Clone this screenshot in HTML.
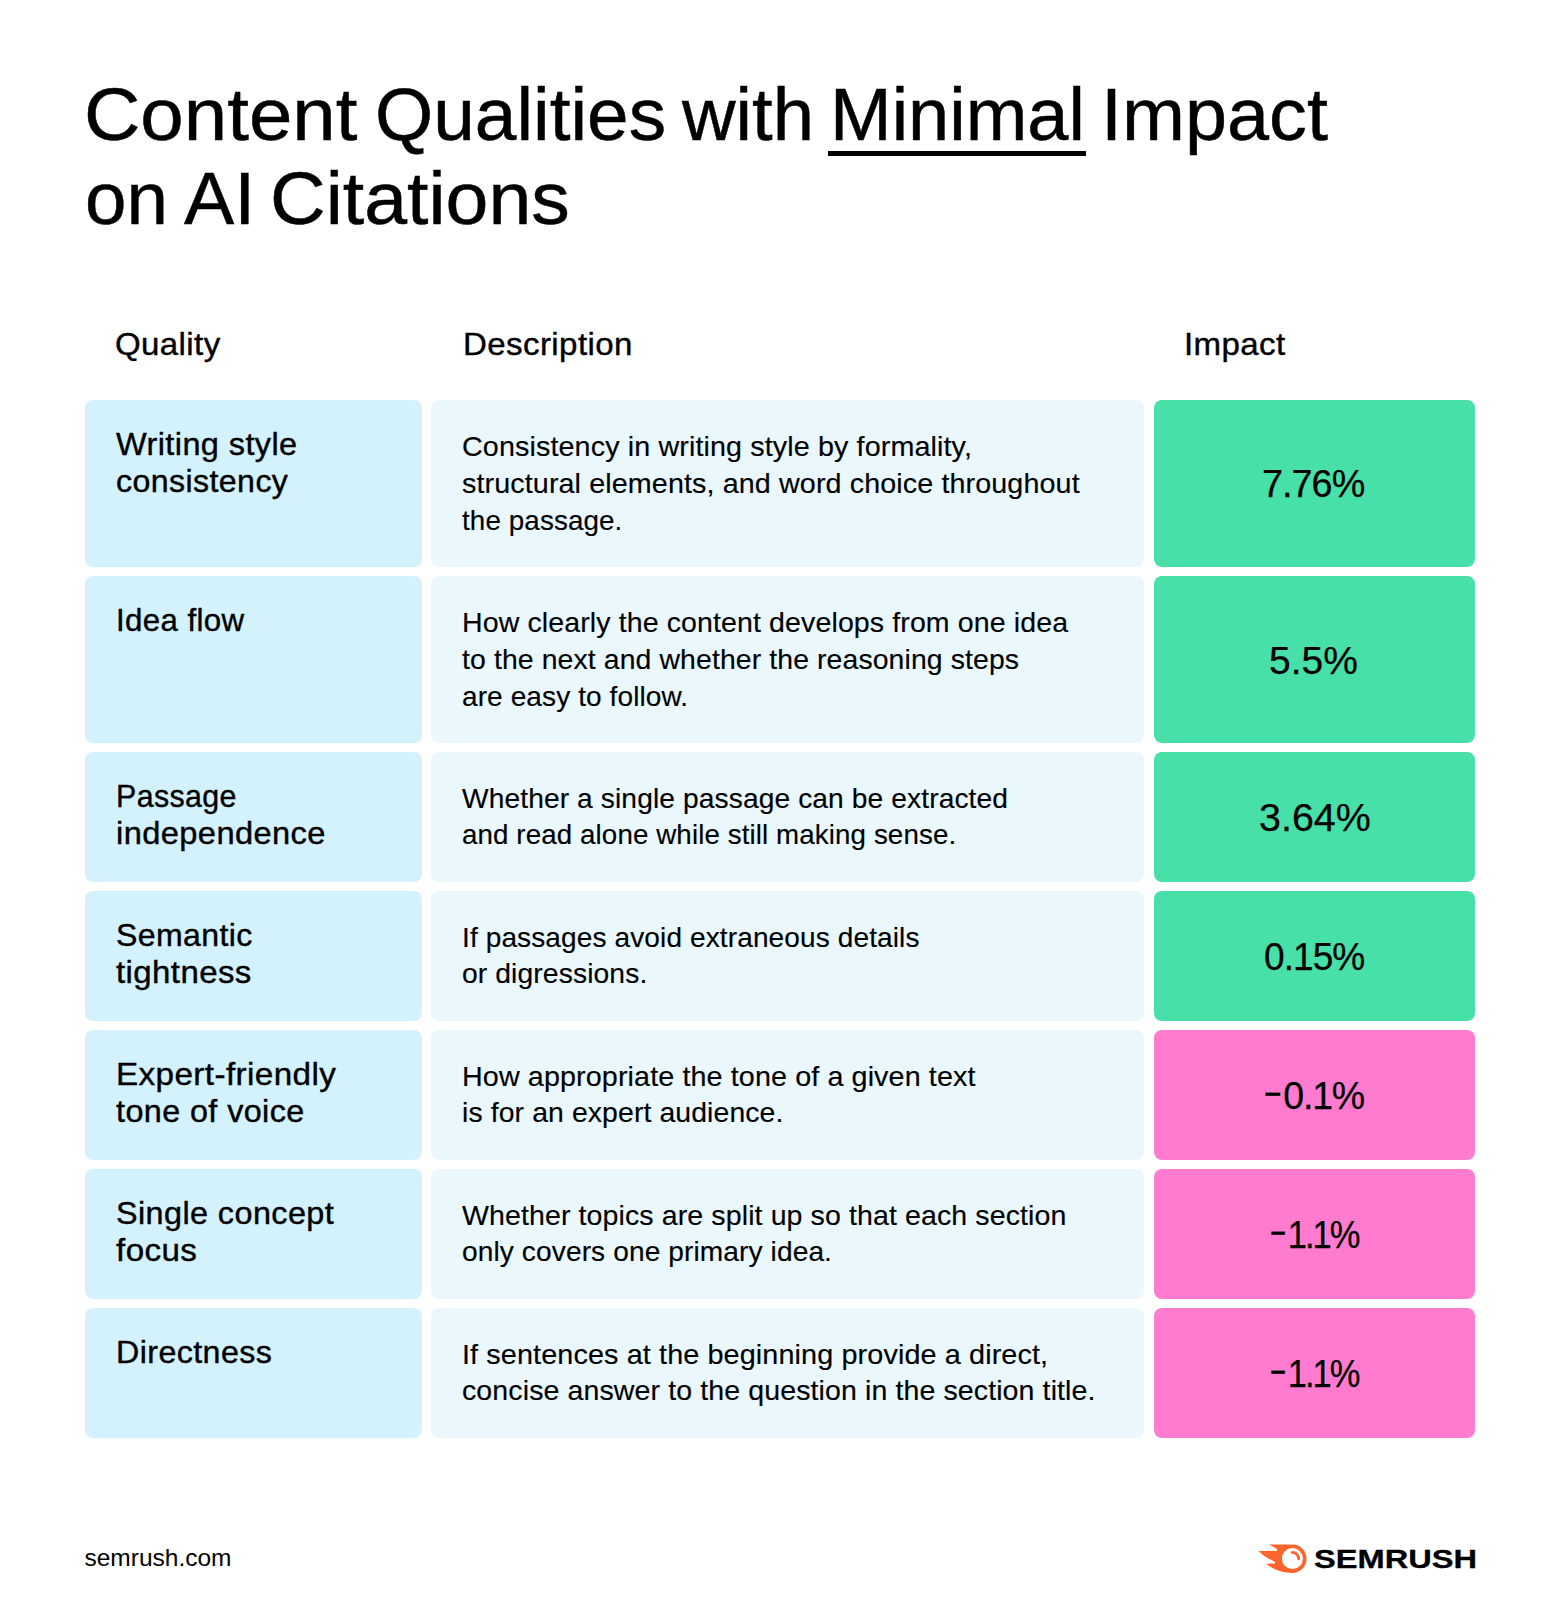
<!DOCTYPE html>
<html lang="en">
<head>
<meta charset="utf-8">
<title>Content Qualities with Minimal Impact on AI Citations</title>
<style>
html,body{margin:0;padding:0;background:#fff;}
body{width:1560px;height:1600px;overflow:hidden;font-family:"Liberation Sans",sans-serif;color:#000;}
#page{position:relative;width:1560px;height:1600px;overflow:hidden;}
.x{position:absolute;white-space:nowrap;display:block;transform-origin:0 50%;}
.title{position:absolute;left:0;top:0;margin:0;font-weight:400;}
.ul{position:absolute;left:828.3px;top:151.2px;width:257.4px;height:4.6px;background:#000;}
.head{position:absolute;left:0;top:0;}
.row{position:absolute;left:0;width:1560px;}
.c{position:absolute;top:0;height:100%;border-radius:8px;}
.c1{left:85px;width:336.5px;background:#d3f2fe;}
.c2{left:430.5px;width:713.5px;background:#eaf8fe;}
.c3{left:1153.5px;width:321.5px;}
.g{background:#46e0a8;}
.p{background:#ff7bd0;}
.foot{position:absolute;left:0;top:0;}
.fire{position:absolute;left:1254px;top:1541px;}
.mn{display:inline-block;width:20px;letter-spacing:0;transform-origin:0 50%;transform:translateY(-2px) scaleX(0.8);}
.s{font-size:24.5px;line-height:30px;}
.b{font-size:26.7px;line-height:30px;font-weight:700;-webkit-text-stroke:0.3px #000;}
.t{font-size:75px;line-height:84px;-webkit-text-stroke:0.5px #000;}
.h{font-size:32px;line-height:36px;-webkit-text-stroke:0.4px #000;letter-spacing:0.4px;}
.q{font-size:32px;line-height:37px;-webkit-text-stroke:0.4px #000;letter-spacing:0.4px;}
.d{font-size:28px;line-height:37px;-webkit-text-stroke:0.15px #000;letter-spacing:0.1px;}
.v{font-size:39px;line-height:44px;-webkit-text-stroke:0.25px #000;}
</style>
</head>
<body>
<div id="page">
<h1 class="title">
<span id="t1" class="x t" style="left:83.57px;top:72px;transform:scaleX(1.0408)">Content</span>
<span id="t2" class="x t" style="left:374.50px;top:72px;transform:scaleX(0.9975)">Qualities</span>
<span id="t3" class="x t" style="left:682.18px;top:72px;transform:scaleX(0.9888)">with</span>
<span id="t4" class="x t" style="left:829.89px;top:72px;transform:scaleX(0.9866)">Minimal</span>
<span id="t5" class="x t" style="left:1100.64px;top:72px;transform:scaleX(1.0081)">Impact</span>
<span id="t6" class="x t" style="left:84.65px;top:156px;transform:scaleX(0.9944)">on</span>
<span id="t7" class="x t" style="left:183.99px;top:156px;transform:scaleX(1.0046)">AI</span>
<span id="t8" class="x t" style="left:270.20px;top:156px;transform:scaleX(1.0277)">Citations</span>
<i class="ul"></i></h1>
<div class="head"><span id="h1" class="x h" style="left:115.47px;top:326px;transform:scaleX(1.0309)">Quality</span> <span id="h2" class="x h" style="left:463.08px;top:326px;transform:scaleX(1.0325)">Description</span> <span id="h3" class="x h" style="left:1184.31px;top:326px;transform:scaleX(1.0322)">Impact</span></div>
<div class="row" style="top:400px;height:167px">
<div class="c c1"><span id="q00" class="x q" style="left:31.00px;top:26px;transform:scaleX(1.0151)">Writing style</span> <span id="q01" class="x q" style="left:31.00px;top:63px;transform:scaleX(1.0043)">consistency</span></div>
<div class="c c2"><span id="d00" class="x d" style="left:31.30px;top:28px;transform:scaleX(1.0263)">Consistency in writing style by formality,</span> <span id="d01" class="x d" style="left:31.30px;top:65px;transform:scaleX(1.0255)">structural elements, and word choice throughout</span> <span id="d02" class="x d" style="left:31.30px;top:102px;transform:scaleX(0.9929)">the passage.</span></div>
<div class="c c3 g"><span id="v0" class="x v" style="left:108.57px;top:62px;letter-spacing:-1px;transform:scaleX(0.9683)">7.76%</span></div>
</div>
<div class="row" style="top:576px;height:167px">
<div class="c c1"><span id="q10" class="x q" style="left:31.00px;top:26px;transform:scaleX(0.9762)">Idea flow</span></div>
<div class="c c2"><span id="d10" class="x d" style="left:31.30px;top:28px;transform:scaleX(1.0196)">How clearly the content develops from one idea</span> <span id="d11" class="x d" style="left:31.30px;top:65px;transform:scaleX(1.0146)">to the next and whether the reasoning steps</span> <span id="d12" class="x d" style="left:31.30px;top:102px;transform:scaleX(1.0007)">are easy to follow.</span></div>
<div class="c c3 g"><span id="v1" class="x v" style="left:115.73px;top:63px;transform:scaleX(0.9987)">5.5%</span></div>
</div>
<div class="row" style="top:752px;height:130px">
<div class="c c1"><span id="q20" class="x q" style="left:31.00px;top:26px;transform:scaleX(0.9488)">Passage</span> <span id="q21" class="x q" style="left:31.00px;top:63px;transform:scaleX(1.0192)">independence</span></div>
<div class="c c2"><span id="d20" class="x d" style="left:31.30px;top:28px;transform:scaleX(1.0063)">Whether a single passage can be extracted</span> <span id="d21" class="x d" style="left:31.30px;top:64px;transform:scaleX(0.9905)">and read alone while still making sense.</span></div>
<div class="c c3 g"><span id="v2" class="x v" style="left:105.34px;top:44px;transform:scaleX(1.0109)">3.64%</span></div>
</div>
<div class="row" style="top:891px;height:130px">
<div class="c c1"><span id="q30" class="x q" style="left:31.00px;top:26px;transform:scaleX(1.0015)">Semantic</span> <span id="q31" class="x q" style="left:31.00px;top:63px;transform:scaleX(1.0309)">tightness</span></div>
<div class="c c2"><span id="d30" class="x d" style="left:31.30px;top:28px;transform:scaleX(1.0022)">If passages avoid extraneous details</span> <span id="d31" class="x d" style="left:31.30px;top:64px;transform:scaleX(1.0098)">or digressions.</span></div>
<div class="c c3 g"><span id="v3" class="x v" style="left:110.27px;top:44px;letter-spacing:-1px;transform:scaleX(0.9501)">0.15%</span></div>
</div>
<div class="row" style="top:1030px;height:130px">
<div class="c c1"><span id="q40" class="x q" style="left:31.00px;top:26px;transform:scaleX(1.0376)">Expert-friendly</span> <span id="q41" class="x q" style="left:31.00px;top:63px;transform:scaleX(1.0109)">tone of voice</span></div>
<div class="c c2"><span id="d40" class="x d" style="left:31.30px;top:28px;transform:scaleX(1.0260)">How appropriate the tone of a given text</span> <span id="d41" class="x d" style="left:31.30px;top:64px;transform:scaleX(1.0141)">is for an expert audience.</span></div>
<div class="c c3 p"><span id="v4" class="x v" style="left:110.88px;top:44px;letter-spacing:-1.2px;transform:scaleX(0.9605)"><span class="mn">−</span>0.1%</span></div>
</div>
<div class="row" style="top:1169px;height:130px">
<div class="c c1"><span id="q50" class="x q" style="left:31.00px;top:26px;transform:scaleX(1.0122)">Single concept</span> <span id="q51" class="x q" style="left:31.00px;top:63px;transform:scaleX(1.0366)">focus</span></div>
<div class="c c2"><span id="d50" class="x d" style="left:31.30px;top:28px;transform:scaleX(1.0191)">Whether topics are split up so that each section</span> <span id="d51" class="x d" style="left:31.30px;top:64px;transform:scaleX(1.0038)">only covers one primary idea.</span></div>
<div class="c c3 p"><span id="v5" class="x v" style="left:116.72px;top:44px;letter-spacing:-2.2px;transform:scaleX(0.8850)"><span class="mn">−</span>1.1%</span></div>
</div>
<div class="row" style="top:1308px;height:130px">
<div class="c c1"><span id="q60" class="x q" style="left:31.00px;top:26px;transform:scaleX(1.0072)">Directness</span></div>
<div class="c c2"><span id="d60" class="x d" style="left:31.30px;top:28px;transform:scaleX(1.0289)">If sentences at the beginning provide a direct,</span> <span id="d61" class="x d" style="left:31.30px;top:64px;transform:scaleX(1.0193)">concise answer to the question in the section title.</span></div>
<div class="c c3 p"><span id="v6" class="x v" style="left:116.72px;top:44px;letter-spacing:-2.2px;transform:scaleX(0.8850)"><span class="mn">−</span>1.1%</span></div>
</div>
<div class="foot"><span id="s1" class="x s" style="left:84.45px;top:1543px;transform:scaleX(1.0000)">semrush.com</span>
<svg class="fire" width="56" height="36" viewBox="1254 1541 56 36" aria-hidden="true"><path fill="#ff642d" d="M1269.1 1544.6 L1292.4 1544.6 A14.15 14.15 0 0 1 1292.4 1572.9 C1283.5 1573.1 1273.2 1569.6 1266.2 1563.7 L1275.1 1563.5 L1275.1 1561.9 C1269 1559 1263 1555.5 1258.5 1550.9 L1277.1 1550.9 L1277.1 1549.1 Z"/><circle cx="1292.4" cy="1558.6" r="10.5" fill="#fff"/><path d="M1292.2 1552.4 A6.3 6.3 0 0 1 1298.6 1558.8" fill="none" stroke="#ff642d" stroke-width="2.9" stroke-linecap="round"/></svg><span id="b1" class="x b" style="left:1313.80px;top:1544px;transform:scaleX(1.2215)">SEMRUSH</span></div>
</div>
</body>
</html>
